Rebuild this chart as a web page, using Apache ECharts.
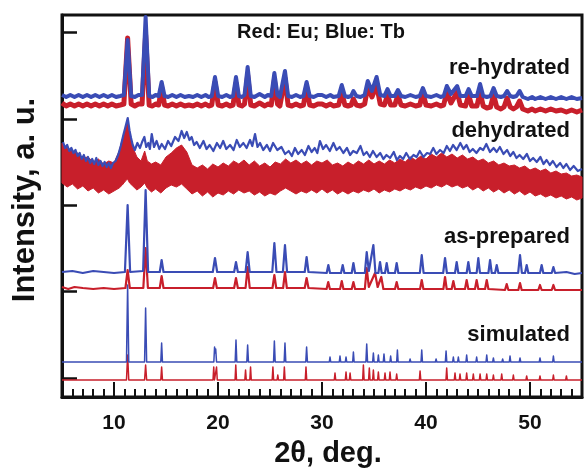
<!DOCTYPE html>
<html>
<head>
<meta charset="utf-8">
<script src="https://cdn.jsdelivr.net/npm/echarts@6/dist/echarts.min.js"></script>
<style>
  html, body { margin: 0; padding: 0; background: #fff; }
  #xrd { width: 584px; height: 469px; }
</style>
</head>
<body>
<div id="xrd"></div>
<script>
// 2theta (deg) vs intensity (arbitrary units, patterns stacked with offsets)
const xTickLabels = [10, 20, 30, 40, 50]
const yTicks = [19, 106, 192, 278, 365]

// simulated patterns
const simTb = [
  [5, 35], [11.2, 35], [11.31, 112], [11.42, 35], [12.94, 35], [13.04, 89], [13.14, 35], [14.5, 35], [14.58, 54], [14.66, 35],
  [19.6, 35], [19.67, 50], [19.72, 44], [19.78, 48], [19.86, 35], [21.65, 35], [21.73, 57], [21.81, 35], [22.77, 35], [22.85, 52], [22.93, 35],
  [25.34, 35], [25.42, 56], [25.5, 35], [26.36, 35], [26.44, 54], [26.52, 35], [28.44, 35], [28.52, 50], [28.6, 35],
  [30.7, 35], [30.77, 40], [30.84, 35], [31.66, 35], [31.73, 41], [31.8, 35], [32.24, 35], [32.31, 40], [32.38, 35], [32.95, 35], [33.02, 45], [33.09, 35],
  [34.22, 35], [34.3, 53], [34.38, 35], [34.87, 35], [34.94, 44], [35.01, 35], [35.35, 35], [35.42, 42], [35.49, 35], [35.89, 35], [35.96, 43], [36.03, 35],
  [36.53, 35], [36.6, 41], [36.67, 35], [37.18, 35], [37.25, 47], [37.32, 35], [38.4, 35], [38.47, 38], [38.54, 35], [39.52, 35], [39.59, 47], [39.66, 35],
  [40.9, 35], [40.97, 38], [41.04, 35], [41.86, 35], [41.93, 46], [42, 35], [42.56, 35], [42.63, 40], [42.7, 35], [43.04, 35], [43.11, 40], [43.18, 35],
  [43.84, 35], [43.91, 42], [43.98, 35], [44.8, 35], [44.87, 40], [44.94, 35], [45.77, 35], [45.84, 42], [45.91, 35], [46.41, 35], [46.48, 39], [46.55, 35],
  [47.3, 35], [47.37, 38], [47.44, 35], [48.01, 35], [48.08, 41], [48.15, 35], [48.97, 35], [49.04, 39], [49.11, 35], [50.89, 35], [50.96, 39], [51.03, 35],
  [52.18, 35], [52.25, 41], [52.32, 35], [53.6, 35], [53.67, 37], [53.74, 35], [55, 35]
]
const simEu = [
  [5, 17], [11.2, 17], [11.31, 42], [11.42, 17], [12.94, 17], [13.04, 32], [13.14, 17], [14.5, 17], [14.58, 30], [14.66, 17],
  [19.52, 17], [19.59, 30], [19.66, 17], [19.79, 17], [19.86, 30], [19.93, 17], [21.64, 17], [21.71, 32], [21.78, 17],
  [22.58, 17], [22.65, 27], [22.72, 17], [23.06, 17], [23.13, 30], [23.2, 17], [25.21, 17], [25.28, 30], [25.35, 17], [25.68, 17], [25.75, 22], [25.82, 17],
  [26.31, 17], [26.38, 30], [26.45, 17], [28.39, 17], [28.46, 30], [28.53, 17],
  [31.18, 17], [31.25, 24], [31.32, 17], [32.24, 17], [32.31, 25], [32.38, 17], [32.63, 17], [32.7, 24], [32.77, 17], [33.91, 17], [33.98, 32], [34.05, 17],
  [34.48, 17], [34.55, 29], [34.62, 17], [34.87, 17], [34.94, 27], [35.01, 17], [35.35, 17], [35.42, 25], [35.49, 17], [35.99, 17], [36.06, 24], [36.13, 17],
  [36.47, 17], [36.54, 25], [36.61, 17], [37.11, 17], [37.18, 23], [37.25, 17], [39.36, 17], [39.43, 26], [39.5, 17], [41.92, 17], [41.99, 29], [42.06, 17],
  [42.72, 17], [42.79, 24], [42.86, 17], [43.2, 17], [43.27, 23], [43.34, 17], [43.84, 17], [43.91, 24], [43.98, 17], [44.48, 17], [44.55, 23], [44.62, 17],
  [45.13, 17], [45.2, 23], [45.27, 17], [45.77, 17], [45.84, 23], [45.91, 17], [46.41, 17], [46.48, 22], [46.55, 17], [47.21, 17], [47.28, 23], [47.35, 17],
  [48.33, 17], [48.4, 22], [48.47, 17], [49.61, 17], [49.68, 21], [49.75, 17], [50.89, 17], [50.96, 21], [51.03, 17], [52.18, 17], [52.25, 22], [52.32, 17],
  [53.43, 17], [53.5, 21], [53.57, 17], [55, 17]
]

// as-prepared
const asTb = [
  [5, 125], [6, 126], [7, 124], [8, 126], [9, 125], [10, 124], [11.05, 125], [11.31, 192], [11.55, 125], [12.8, 126], [13.04, 207], [13.28, 125],
  [14.4, 125], [14.58, 137], [14.76, 125], [19.5, 125], [19.71, 139], [19.92, 125], [21.55, 125], [21.73, 135], [21.91, 125],
  [22.65, 125], [22.85, 145], [23.05, 125], [25.22, 125], [25.42, 154], [25.62, 125], [26.24, 125], [26.44, 152], [26.64, 125],
  [28.34, 125], [28.52, 140], [28.7, 125], [30.45, 124], [30.61, 132], [30.77, 124], [31.83, 124], [31.99, 132], [32.15, 124],
  [32.86, 124], [33.02, 134], [33.18, 124], [34.12, 124], [34.3, 145], [34.5, 126], [34.94, 152], [35.14, 124], [35.42, 124], [35.58, 135], [35.74, 124],
  [36.06, 124], [36.22, 134], [36.38, 124], [37.02, 124], [37.18, 134], [37.34, 124], [39.41, 124], [39.59, 142], [39.77, 124],
  [41.65, 124], [41.83, 139], [42.01, 124], [42.79, 124], [42.95, 135], [43.11, 124], [43.91, 124], [44.07, 135], [44.23, 124],
  [44.87, 124], [45.03, 139], [45.19, 124], [46, 124], [46.16, 137], [46.32, 124], [46.64, 124], [46.8, 132], [46.96, 124],
  [48.86, 124], [49.04, 142], [49.22, 124], [49.52, 124], [49.68, 132], [49.84, 124], [50.96, 124], [51.12, 132], [51.28, 124],
  [52.09, 124], [52.25, 130], [52.41, 124], [53.5, 125], [54.3, 123], [55, 124]
]
const asEu = [
  [5, 110], [5.6, 108], [6.2, 110], [7, 109], [8, 108], [9, 109], [10, 108], [11.1, 109], [11.31, 127], [11.52, 109], [12.82, 109], [13.04, 149], [13.26, 109],
  [14.4, 109], [14.58, 121], [14.76, 109], [19.53, 109], [19.71, 119], [19.89, 109], [21.55, 109], [21.73, 119], [21.91, 109],
  [22.65, 109], [22.85, 130], [23.05, 109], [25.24, 109], [25.42, 122], [25.6, 109], [26.26, 109], [26.44, 125], [26.62, 109],
  [28.34, 109], [28.52, 119], [28.7, 109], [30.44, 108], [30.6, 115], [30.76, 108], [31.74, 108], [31.9, 116], [32.06, 108],
  [32.86, 108], [33.02, 115], [33.18, 108], [34.12, 108], [34.3, 129], [34.5, 110], [35.1, 124], [35.35, 110], [35.7, 120], [35.9, 108],
  [37.02, 108], [37.18, 115], [37.34, 108], [39.43, 108], [39.59, 117], [39.75, 108], [41.67, 108], [41.83, 120], [41.99, 108],
  [42.47, 108], [42.63, 116], [42.79, 108], [43.75, 108], [43.91, 117], [44.07, 108], [44.71, 108], [44.87, 117], [45.03, 108],
  [45.68, 108], [45.84, 117], [46, 108], [47.6, 107], [47.76, 113], [47.92, 107], [48.88, 107], [49.04, 114], [49.2, 107],
  [50.8, 107], [50.96, 112], [51.12, 107], [52.09, 107], [52.25, 112], [52.41, 107], [55, 107]
]

// dehydrated
const deTb = [
  [5.1, 255], [5.3, 249], [5.5, 252], [5.7, 246], [5.9, 249], [6.1, 244], [6.3, 247], [6.5, 241], [6.7, 244], [6.9, 238], [7.1, 242], [7.3, 236],
  [7.5, 240], [7.7, 234], [7.9, 238], [8.1, 233], [8.3, 239], [8.5, 232], [8.7, 236], [8.9, 231], [9.1, 235], [9.3, 230], [9.5, 234], [9.7, 229],
  [9.9, 234], [10.15, 236], [10.4, 242], [10.65, 251], [10.9, 262], [11.1, 270], [11.32, 279], [11.5, 266], [11.64, 259], [11.8, 252], [12.0, 247],
  [12.25, 254], [12.5, 249], [12.7, 255], [12.92, 260], [13.1, 250], [13.3, 254], [13.45, 248], [13.63, 263], [13.85, 250], [14.1, 256], [14.35, 248],
  [14.59, 253], [14.9, 248], [15.2, 256], [15.5, 251], [15.87, 260], [16.2, 256], [16.5, 266], [16.75, 259], [17.0, 265], [17.25, 257], [17.47, 260],
  [17.7, 252], [17.95, 255], [18.25, 249], [18.6, 256], [18.9, 248], [19.2, 252], [19.55, 246], [19.9, 254], [20.2, 249], [20.5, 256], [20.8, 248],
  [21.16, 252], [21.5, 247], [21.8, 257], [22.1, 250], [22.44, 254], [22.75, 249], [23.08, 257], [23.3, 251], [23.56, 263], [23.8, 250], [24.04, 254],
  [24.35, 247], [24.7, 252], [25.0, 246], [25.3, 254], [25.7, 247], [26.1, 250], [26.45, 243], [26.8, 246], [27.1, 241], [27.4, 249], [27.7, 243],
  [28.05, 247], [28.35, 242], [28.7, 251], [29.0, 245], [29.3, 249], [29.55, 244], [29.8, 256], [30.1, 248], [30.4, 252], [30.75, 246], [31.1, 254],
  [31.4, 247], [31.7, 250], [32.05, 244], [32.4, 249], [32.7, 242], [33, 246], [33.35, 244], [33.7, 251], [34.0, 242], [34.3, 245], [34.6, 240],
  [34.9, 246], [35.25, 240], [35.6, 244], [35.9, 238], [36.2, 242], [36.55, 239], [36.9, 245], [37.2, 237], [37.5, 241], [37.8, 238], [38.1, 244],
  [38.45, 238], [38.8, 242], [39.1, 240], [39.4, 246], [39.75, 240], [40.1, 244], [40.4, 243], [40.7, 249], [41.0, 243], [41.35, 247], [41.7, 244],
  [42, 251], [42.3, 246], [42.6, 252], [42.95, 247], [43.3, 254], [43.6, 248], [43.9, 252], [44.2, 245], [44.5, 248], [44.85, 244], [45.2, 249],
  [45.5, 247], [45.8, 253], [46.15, 245], [46.5, 249], [46.8, 245], [47.1, 250], [47.45, 243], [47.8, 247], [48.1, 241], [48.4, 245], [48.7, 239],
  [49.0, 242], [49.35, 238], [49.7, 243], [50.0, 236], [50.3, 239], [50.65, 235], [51, 240], [51.3, 233], [51.6, 237], [51.9, 232], [52.2, 236],
  [52.55, 230], [52.9, 234], [53.2, 229], [53.5, 233], [53.85, 227], [54.2, 231], [54.6, 226], [55, 228]
]
// noisy Eu trace: [2theta, lower edge, upper edge] of the noise band
const deEuBand = [
  [5, 214, 254], [5.5, 210, 249], [6, 213, 246], [6.5, 208, 244], [7, 211, 239], [7.5, 206, 240], [8, 209, 235], [8.5, 204, 238],
  [9, 207, 233], [9.5, 203, 236], [10, 206, 234], [10.5, 209, 246], [10.8, 212, 258], [11.1, 216, 268], [11.3, 218, 276], [11.5, 214, 266],
  [11.8, 211, 250], [12.2, 207, 240], [12.6, 210, 236], [12.95, 214, 246], [13.2, 209, 236], [13.6, 205, 233], [14, 208, 235], [14.5, 204, 232],
  [15, 209, 240], [15.5, 212, 244], [16, 210, 249], [16.5, 213, 252], [17, 208, 245], [17.5, 203, 232], [18, 206, 229], [18.5, 201, 232],
  [19, 205, 228], [19.5, 200, 233], [20, 204, 230], [20.5, 202, 234], [21, 206, 231], [21.5, 203, 236], [22, 207, 233], [22.5, 204, 237],
  [23, 206, 232], [23.5, 202, 236], [24, 205, 231], [24.5, 201, 234], [25, 204, 230], [25.5, 202, 235], [26, 206, 233], [26.5, 209, 238],
  [27, 206, 234], [27.5, 203, 237], [28, 206, 233], [28.5, 204, 236], [29, 207, 232], [29.5, 204, 236], [30, 208, 234], [30.5, 204, 237],
  [31, 207, 232], [31.5, 203, 234], [32, 206, 231], [32.5, 203, 235], [33, 206, 232], [33.5, 204, 236], [34, 207, 233], [34.5, 205, 237],
  [35, 208, 233], [35.5, 204, 236], [36, 207, 233], [36.5, 205, 237], [37, 208, 234], [37.5, 206, 238], [38, 209, 235], [38.5, 207, 240],
  [39, 210, 237], [39.5, 208, 241], [40, 211, 238], [40.5, 209, 243], [41, 212, 240], [41.5, 210, 244], [42, 213, 240], [42.5, 210, 243],
  [43, 212, 239], [43.5, 209, 242], [44, 211, 238], [44.5, 207, 240], [45, 210, 236], [45.5, 206, 238], [46, 209, 234], [46.5, 205, 236],
  [47, 208, 232], [47.5, 204, 234], [48, 207, 231], [48.5, 203, 232], [49, 206, 229], [49.5, 202, 231], [50, 205, 227], [50.5, 201, 229],
  [51, 203, 226], [51.5, 200, 228], [52, 202, 224], [52.5, 199, 226], [53, 201, 223], [53.5, 198, 224], [54, 200, 221], [54.5, 197, 222],
  [55, 199, 220]
]

// re-hydrated
const reTb = [
  [5, 302], [5.4, 300], [5.8, 302], [6.2, 300], [6.6, 302], [7, 300], [7.4, 302], [7.8, 300], [8.2, 302], [8.6, 300], [9, 302], [9.4, 300],
  [9.8, 302], [10.2, 300], [10.6, 301], [10.95, 302], [11.31, 357], [11.65, 301], [12, 300], [12.35, 302], [12.7, 302], [13.04, 380], [13.38, 301],
  [13.7, 300], [14, 302], [14.3, 301], [14.58, 315], [14.86, 301], [15.2, 300], [15.6, 302], [16, 300], [16.4, 302], [16.8, 300], [17.2, 301],
  [17.6, 300], [18, 302], [18.4, 300], [18.8, 302], [19.1, 300], [19.4, 301], [19.71, 320], [20.02, 301], [20.4, 300], [20.8, 302], [21.15, 300],
  [21.45, 301], [21.73, 320], [22.01, 301], [22.3, 300], [22.55, 302], [22.85, 330], [23.15, 301], [23.5, 300], [24, 303], [24.5, 300], [24.8, 302],
  [25.12, 301], [25.42, 324], [25.72, 302], [25.95, 300], [26.14, 302], [26.44, 326], [26.74, 301], [27.1, 300], [27.5, 302], [27.9, 300],
  [28.22, 301], [28.52, 315], [28.82, 301], [29.2, 300], [29.6, 302], [30, 302], [30.4, 300], [30.8, 302], [31.1, 300], [31.6, 301], [31.9, 312],
  [32.2, 301], [32.5, 300], [32.8, 301], [33.02, 306], [33.3, 301], [33.7, 300], [34.1, 302], [34.4, 316], [34.8, 306], [35.25, 320], [35.6, 302],
  [36, 301], [36.3, 308], [36.6, 301], [37, 301], [37.3, 307], [37.6, 301], [38, 300], [38.5, 302], [39, 300], [39.4, 301], [39.7, 309], [40, 301],
  [40.5, 300], [41, 302], [41.4, 300], [41.7, 301], [42, 311], [42.4, 303], [43, 311], [43.3, 301], [43.8, 301], [44.1, 308], [44.4, 301],
  [44.9, 301], [45.2, 313], [45.5, 301], [45.85, 300], [46.2, 301], [46.5, 309], [46.8, 301], [47.2, 300], [47.5, 301], [47.8, 306], [48.1, 301],
  [48.4, 300], [48.7, 301], [49, 306], [49.3, 300], [49.8, 298], [50.2, 300], [50.5, 298], [51, 300], [51.5, 298], [52, 300], [52.5, 298],
  [53, 300], [53.5, 298], [54, 300], [54.5, 298], [55, 299]
]
const reEu = [
  [5, 294], [5.4, 291], [5.8, 293], [6.2, 291], [6.6, 293], [7, 291], [7.4, 293], [7.8, 291], [8.2, 293], [8.6, 291], [9, 293], [9.4, 291],
  [9.8, 293], [10.2, 291], [10.6, 292], [10.95, 293], [11.31, 359], [11.65, 293], [12, 291], [12.35, 293], [12.7, 293], [13.04, 362], [13.38, 292],
  [13.7, 291], [14, 293], [14.3, 292], [14.58, 310], [14.86, 292], [15.2, 291], [15.6, 293], [16, 291], [16.4, 293], [16.8, 291], [17.2, 292],
  [17.6, 291], [18, 293], [18.4, 291], [18.8, 293], [19.1, 291], [19.4, 292], [19.71, 315], [20.02, 292], [20.4, 291], [20.8, 293], [21.15, 291],
  [21.45, 292], [21.73, 314], [22.01, 292], [22.3, 291], [22.55, 293], [22.85, 322], [23.15, 292], [23.5, 291], [24, 294], [24.5, 291], [24.8, 293],
  [25.12, 292], [25.42, 317], [25.72, 293], [25.95, 291], [26.14, 293], [26.44, 319], [26.74, 292], [27.1, 291], [27.5, 293], [27.9, 291],
  [28.22, 292], [28.52, 310], [28.82, 292], [29.2, 291], [29.6, 293], [30, 293], [30.4, 291], [30.8, 293], [31.1, 291], [31.6, 292], [31.9, 305],
  [32.2, 292], [32.5, 291], [32.8, 292], [33.02, 298], [33.3, 292], [33.7, 291], [34.1, 293], [34.4, 310], [34.8, 300], [35.25, 312], [35.6, 293],
  [36, 292], [36.3, 302], [36.6, 292], [37, 292], [37.3, 302], [37.6, 292], [38, 291], [38.5, 293], [39, 291], [39.4, 292], [39.7, 304], [40, 292],
  [40.5, 291], [41, 293], [41.4, 291], [41.7, 292], [42, 305], [42.4, 294], [43, 305], [43.3, 292], [43.8, 291], [44.1, 302], [44.4, 291],
  [44.9, 291], [45.2, 305], [45.5, 291], [45.85, 289], [46.2, 290], [46.5, 302], [46.8, 290], [47.2, 288], [47.5, 290], [47.8, 299], [48.1, 290],
  [48.4, 288], [48.7, 290], [49, 296], [49.3, 288], [49.8, 286], [50.2, 288], [50.5, 286], [51, 288], [51.5, 286], [52, 288], [52.5, 286],
  [53, 287], [53.5, 285], [54, 287], [54.5, 285], [55, 287]
]

const RED = '#c81f2b'
const BLUE = '#3a4cb5'
const INK = '#111'
const FONT = `'Liberation Sans', Arial, Helvetica, sans-serif`

function trace (name, data, color, width) {
  return {
    name: name,
    type: 'line',
    data: data,
    showSymbol: false,
    symbol: 'none',
    lineStyle: { color: color, width: width, join: 'round' },
    emphasis: { disabled: true },
    silent: true
  }
}

// noise band drawn as one polygon, upper edge then lower edge, through the axis scales
function band (name, rows, color) {
  return {
    name: name,
    type: 'custom',
    silent: true,
    data: [[rows[0][0], rows[0][1]]],
    renderItem: (params, api) => {
      let top = rows.map(r => api.coord([r[0], r[2]]))
      let bottom = rows.slice().reverse().map(r => api.coord([r[0], r[1]]))
      return {
        type: 'polygon',
        shape: { points: top.concat(bottom) },
        style: { fill: color, stroke: color, lineWidth: 1 }
      }
    }
  }
}

let chart = echarts.init(document.getElementById('xrd'), null, { renderer: 'canvas' })

let option = {
  animation: false,
  grid: {
    left: 62,
    right: 2,
    top: 15,
    bottom: 72,
    outerBoundsMode: 'none',
    show: true,
    borderColor: INK,
    borderWidth: 3
  },
  xAxis: [
    {
      type: 'value',
      min: 5,
      max: 55,
      interval: 1,
      name: '2θ, deg.',
      nameLocation: 'middle',
      nameGap: 42,
      nameTextStyle: { color: INK, fontSize: 29, fontWeight: 'bold', fontFamily: FONT, padding: [0, 0, 0, 12] },
      axisLine: { lineStyle: { color: INK, width: 3 } },
      axisTick: { inside: true, length: 8, lineStyle: { color: INK, width: 2 } },
      axisLabel: {
        customValues: xTickLabels,
        margin: 16,
        color: INK,
        fontSize: 21,
        fontWeight: 'bold',
        fontFamily: FONT
      },
      splitLine: { show: false }
    },
    {
      type: 'value',
      min: 5,
      max: 55,
      position: 'bottom',
      axisLine: { show: false },
      axisTick: { customValues: xTickLabels, inside: true, length: 15, lineStyle: { color: INK, width: 2 } },
      axisLabel: { show: false },
      splitLine: { show: false }
    }
  ],
  yAxis: {
    type: 'value',
    min: 0,
    max: 382,
    name: 'Intensity, a. u.',
    nameLocation: 'middle',
    nameGap: 21,
    nameTextStyle: { color: INK, fontSize: 31, fontWeight: 'bold', fontFamily: FONT, padding: [0, 0, 0, 12] },
    axisLine: { show: true, lineStyle: { color: INK, width: 3 } },
    axisTick: { customValues: yTicks, inside: true, length: 15, lineStyle: { color: INK, width: 2.5 } },
    axisLabel: { show: false },
    splitLine: { show: false }
  },
  graphic: [
    { type: 'text', x: 321, y: 32, silent: true, style: { text: 'Red: Eu; Blue: Tb', align: 'center', verticalAlign: 'middle', fill: INK, font: `bold 20px ${FONT}` } },
    { type: 'text', x: 570, y: 68, silent: true, style: { text: 're-hydrated', align: 'right', verticalAlign: 'middle', fill: INK, font: `bold 22px ${FONT}` } },
    { type: 'text', x: 570, y: 131, silent: true, style: { text: 'dehydrated', align: 'right', verticalAlign: 'middle', fill: INK, font: `bold 22px ${FONT}` } },
    { type: 'text', x: 570, y: 237, silent: true, style: { text: 'as-prepared', align: 'right', verticalAlign: 'middle', fill: INK, font: `bold 22px ${FONT}` } },
    { type: 'text', x: 570, y: 335, silent: true, style: { text: 'simulated', align: 'right', verticalAlign: 'middle', fill: INK, font: `bold 22px ${FONT}` } }
  ],
  series: [
    trace('simulated Eu', simEu, RED, 1.5),
    trace('simulated Tb', simTb, BLUE, 1.5),
    trace('as-prepared Eu', asEu, RED, 2.2),
    trace('as-prepared Tb', asTb, BLUE, 2.2),
    band('dehydrated Eu', deEuBand, RED),
    trace('dehydrated Tb', deTb, BLUE, 2.2),
    trace('re-hydrated Eu', reEu, RED, 5),
    trace('re-hydrated Tb', reTb, BLUE, 4)
  ]
}

chart.setOption(option)
</script>
</body>
</html>
